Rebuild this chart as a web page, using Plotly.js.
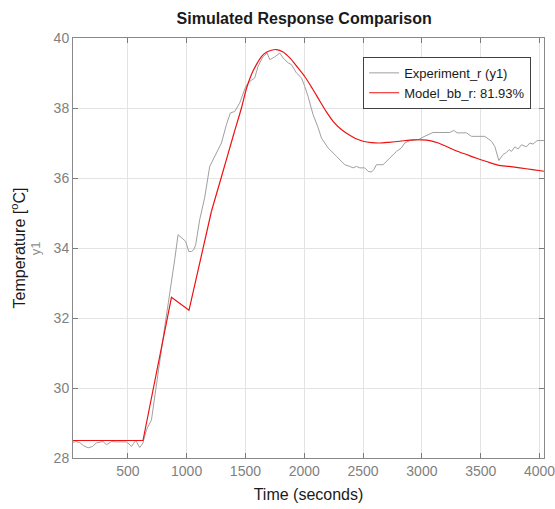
<!DOCTYPE html>
<html>
<head>
<meta charset="utf-8">
<script src="https://cdn.plot.ly/plotly-3.0.1.min.js"></script>
<style>html,body{margin:0;padding:0;background:#fff;}#chart{width:555px;height:509px;}</style>
</head>
<body>
<div id="chart"></div>
<script>
// Experiment_r (y1) — measured temperature
const expTime = [34, 60, 91, 125, 162, 200, 233, 260, 289, 318, 340, 361, 400, 440, 488, 510, 531, 550, 567, 585, 601, 615, 629, 645, 665, 701, 743, 780, 814, 845, 871, 900, 927, 956, 992, 1018, 1041, 1060, 1077, 1111, 1139, 1154, 1196, 1239, 1296, 1338, 1372, 1409, 1451, 1503, 1537, 1579, 1607, 1650, 1684, 1707, 1749, 1792, 1820, 1863, 1891, 1934, 1976, 2004, 2032, 2075, 2117, 2146, 2203, 2274, 2344, 2387, 2415, 2444, 2472, 2514, 2543, 2571, 2591, 2614, 2670, 2727, 2784, 2826, 2854, 2897, 2968, 3010, 3052, 3095, 3237, 3271, 3299, 3379, 3422, 3535, 3592, 3620, 3654, 3690, 3719, 3741, 3762, 3790, 3818, 3847, 3889, 3917, 3945, 3980, 4045];
const expTemp = [28.45, 28.47, 28.44, 28.35, 28.29, 28.33, 28.43, 28.45, 28.47, 28.38, 28.42, 28.47, 28.46, 28.46, 28.46, 28.4, 28.33, 28.42, 28.5, 28.4, 28.3, 28.36, 28.43, 28.65, 28.85, 29.09, 30.14, 31.0, 31.76, 32.45, 33.0, 33.7, 34.38, 34.3, 34.19, 33.9, 33.9, 33.95, 34.09, 34.81, 35.29, 35.45, 36.33, 36.62, 37.0, 37.52, 37.86, 37.9, 38.14, 38.62, 38.76, 38.86, 39.19, 39.47, 39.57, 39.38, 39.46, 39.57, 39.43, 39.29, 39.24, 39.0, 38.86, 38.62, 38.33, 37.81, 37.45, 37.14, 36.86, 36.62, 36.38, 36.33, 36.29, 36.33, 36.29, 36.29, 36.19, 36.17, 36.24, 36.38, 36.38, 36.57, 36.76, 36.86, 37.0, 37.07, 37.09, 37.17, 37.24, 37.3, 37.3, 37.36, 37.29, 37.29, 37.19, 37.19, 37.05, 36.9, 36.5, 36.67, 36.73, 36.81, 36.76, 36.89, 36.83, 36.95, 36.89, 37.0, 36.97, 37.07, 37.07];

// Model_bb_r: 81.93% — simulated response (piecewise-linear start, smooth after)
const modelTimeStart = [34, 629, 871, 1020, 1211];
const modelTempStart = [28.5, 28.5, 32.59, 32.22, 35.05];
const modelTimeRest = [1211, 1293, 1400, 1466, 1508, 1550, 1593, 1636, 1678, 1720, 1763, 1820, 1877, 1934, 2004, 2070, 2132, 2190, 2245, 2310, 2387, 2440, 2500, 2570, 2642, 2720, 2812, 2925, 3000, 3067, 3140, 3209, 3290, 3379, 3460, 3549, 3645, 3740, 3832, 3940, 4045];
const modelTempRest = [35.05, 36.0, 37.25, 38.0, 38.55, 38.95, 39.24, 39.47, 39.59, 39.65, 39.67, 39.6, 39.43, 39.2, 38.9, 38.55, 38.2, 37.88, 37.62, 37.4, 37.22, 37.12, 37.05, 37.01, 37.0, 37.02, 37.05, 37.09, 37.09, 37.07, 37.0, 36.9, 36.78, 36.67, 36.57, 36.47, 36.37, 36.33, 36.29, 36.24, 36.19];

const xTicks = [500, 1000, 1500, 2000, 2500, 3000, 3500, 4000];
const yTicks = [28, 30, 32, 34, 36, 38, 40];

const FONT = 'Liberation Sans, Arial, Helvetica, sans-serif';
const RED = '#ee1111';

const traces = [
  {x: expTime, y: expTemp, type: 'scatter', mode: 'lines', name: 'Experiment_r (y1)',
   line: {color: '#a0a0a0', width: 1}},
  {x: modelTimeStart, y: modelTempStart, type: 'scatter', mode: 'lines', name: 'Model_bb_r: 81.93%',
   legendgroup: 'model', line: {color: RED, width: 1.2}},
  {x: modelTimeRest, y: modelTempRest, type: 'scatter', mode: 'lines', name: 'Model_bb_r: 81.93%',
   legendgroup: 'model', showlegend: false, line: {color: RED, width: 1.2, shape: 'spline', smoothing: 0.8}}
];

const axisCommon = {
  showline: true, linecolor: '#8a8a8a', linewidth: 1, mirror: 'ticks',
  ticks: 'inside', ticklen: 5, tickcolor: '#7a7a7a', tickwidth: 1,
  showgrid: true, gridcolor: '#e3e3e3', gridwidth: 1, zeroline: false,
  ticklabeloverflow: 'allow',
  tickfont: {family: FONT, size: 14, color: '#7f7f7f'}
};

const layout = {
  width: 555, height: 509,
  margin: {l: 73, r: 11, t: 38, b: 51},
  paper_bgcolor: '#ffffff', plot_bgcolor: '#ffffff',
  font: {family: FONT},
  title: {text: '<b>Simulated Response Comparison</b>', x: 0.548, xanchor: 'center', y: 0.975, yanchor: 'top',
          font: {family: FONT, size: 16, color: '#1a1a1a'}},
  xaxis: Object.assign({}, axisCommon, {
    range: [34, 4038], tickvals: xTicks, ticktext: xTicks.map(String),
    title: {text: 'Time (seconds)', font: {family: FONT, size: 16, color: '#1a1a1a'}, standoff: 11}
  }),
  yaxis: Object.assign({}, axisCommon, {
    range: [28, 40], tickvals: yTicks, ticktext: yTicks.map(String),
    title: {text: 'Temperature [<sup>o</sup>C]', font: {family: FONT, size: 16, color: '#1a1a1a'}, standoff: 24}
  }),
  showlegend: true,
  legend: {x: 0.616, y: 0.955, xanchor: 'left', yanchor: 'top',
           bgcolor: '#ffffff', bordercolor: '#404040', borderwidth: 1,
           font: {family: FONT, size: 13, color: '#1a1a1a'}, tracegroupgap: 0},
  annotations: [
    {text: 'y1', xref: 'paper', yref: 'paper', x: -0.08, y: 0.5, xanchor: 'center', yanchor: 'middle',
     textangle: -90, showarrow: false, font: {family: FONT, size: 13, color: '#8f8f8f'}}
  ]
};

Plotly.newPlot('chart', traces, layout, {displayModeBar: false, staticPlot: true});
</script>
</body>
</html>
